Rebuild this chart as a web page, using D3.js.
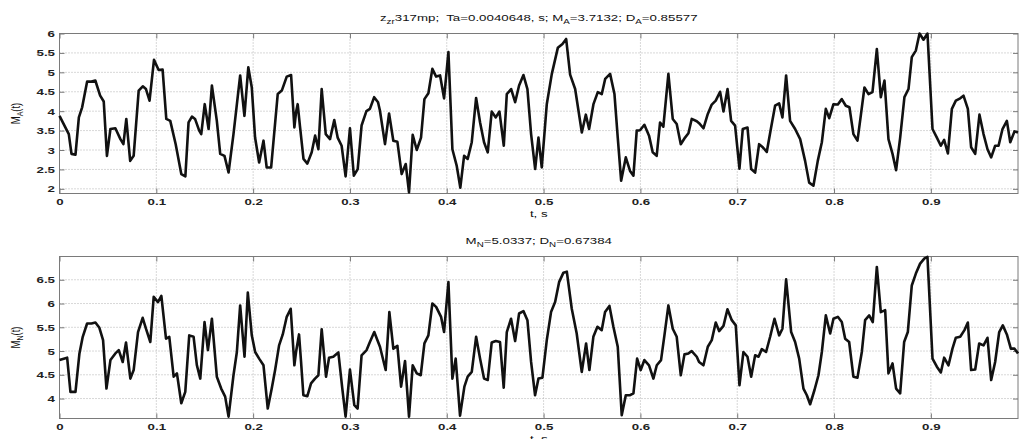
<!DOCTYPE html>
<html>
<head>
<meta charset="utf-8">
<script src="https://cdn.jsdelivr.net/npm/d3@7"></script>
<style>
body { margin: 0; background: #fff; }
svg { display: block; font-family: "Liberation Sans", Arial, sans-serif; }
text { white-space: pre; }
</style>
</head>
<body>
<div id="chart"></div>
<script>
// upper panel, M_A(t)
const tA = [0.000,0.0096,0.0124,0.0165,0.020,0.0234,0.0285,0.032,0.037,0.042,0.0457,0.049,0.0526,0.0577,0.0629,0.066,0.069,0.073,0.0766,0.0818,
  0.086,0.0893,0.093,0.0976,0.1024,0.1065,0.1103,0.1144,0.120,0.1258,0.130,0.1333,0.1368,0.140,0.1443,0.1464,0.150,0.154,0.1574,0.1625,
  0.166,0.1704,0.1746,0.1797,0.1866,0.191,0.195,0.1986,0.202,0.2062,0.2107,0.214,0.2186,0.2254,0.2296,0.2347,0.2392,0.2426,0.2443,0.246,
  0.2485,0.252,0.256,0.2605,0.264,0.2674,0.2708,0.275,0.2794,0.2838,0.2873,0.2914,0.2955,0.300,0.304,0.308,0.312,0.317,0.3206,0.325,
  0.329,0.331,0.3362,0.3404,0.3448,0.349,0.3534,0.3576,0.361,0.3648,0.369,0.3734,0.3769,0.381,0.3851,0.389,0.3931,0.3972,0.4017,0.4058,
  0.4103,0.414,0.4179,0.4216,0.4258,0.4303,0.4344,0.4385,0.4423,0.4464,0.4506,0.4544,0.4589,0.462,0.4665,0.4706,0.4747,0.4792,0.4833,0.4871,
  0.4913,0.4947,0.4981,0.5033,0.5085,0.5147,0.5195,0.5233,0.5274,0.5326,0.5395,0.5436,0.547,0.5515,0.556,0.5601,0.5636,0.5687,0.5732,0.5766,
  0.5801,0.5849,0.5893,0.5928,0.5962,0.5996,0.6041,0.6089,0.6127,0.6168,0.6203,0.6237,0.6289,0.6334,0.6375,0.6417,0.6461,0.6496,0.653,0.6582,
  0.6606,0.6651,0.6696,0.6737,0.6778,0.6823,0.6858,0.690,0.6937,0.6978,0.7023,0.7057,0.7106,0.7144,0.7185,0.7226,0.7264,0.7305,0.735,0.7391,
  0.7433,0.7467,0.7505,0.7546,0.7598,0.765,0.7701,0.7743,0.7787,0.7832,0.7874,0.7915,0.795,0.7994,0.8039,0.808,0.8121,0.8159,0.820,0.8242,
  0.8276,0.8314,0.8356,0.8397,0.8442,0.8483,0.8521,0.8562,0.8604,0.8641,0.8683,0.8727,0.8769,0.8803,0.8845,0.8883,0.8924,0.8965,0.9017,0.9062,
  0.9103,0.9137,0.9176,0.9217,0.9258,0.9303,0.9337,0.9382,0.9416,0.9458,0.9502,0.9544,0.9585,0.9623,0.9664,0.9699,0.974,0.9785,0.982,0.9864,
  0.99]
const mA = [3.88,3.41,2.90,2.88,3.84,4.10,4.76,4.76,4.79,4.40,4.25,2.85,3.54,3.56,3.28,3.15,3.80,2.72,2.85,4.53,
  4.64,4.57,4.27,5.32,5.06,5.07,3.80,3.75,3.15,2.38,2.32,3.71,3.86,3.80,3.50,3.41,4.18,3.54,4.66,3.75,
  2.90,2.85,2.42,3.41,4.92,3.88,5.13,4.61,3.32,2.68,3.24,2.55,2.55,4.44,4.53,4.89,4.93,3.58,3.97,4.18,
  3.58,2.77,2.65,2.94,3.37,3.02,4.57,3.41,3.28,3.77,3.32,3.11,2.32,3.56,2.34,2.51,3.63,4.00,4.06,4.36,
  4.23,4.01,3.15,3.94,3.24,3.21,2.38,2.64,1.91,3.39,3.00,3.32,4.31,4.46,5.09,4.89,4.92,4.33,5.52,3.02,
  2.59,2.03,2.85,2.77,3.20,4.34,3.71,3.20,2.94,3.99,3.84,3.99,3.11,4.44,4.57,4.23,4.66,4.93,4.57,3.41,
  2.51,3.32,2.55,4.18,4.96,5.63,5.73,5.86,4.94,4.57,3.45,3.91,3.54,4.18,4.49,4.44,4.83,4.96,4.44,3.32,
  2.21,2.81,2.46,2.34,3.50,3.51,3.65,3.37,2.94,2.85,3.71,3.60,4.96,3.80,3.67,3.15,3.32,3.43,3.80,3.74,
  3.69,3.56,3.93,4.17,4.27,4.50,3.99,4.57,3.75,3.63,2.52,3.54,3.58,2.51,2.42,3.15,3.07,2.95,3.58,4.14,
  4.20,3.84,4.92,3.75,3.54,3.28,2.72,2.16,2.08,2.72,3.20,4.06,3.82,4.18,4.17,4.31,4.14,4.10,3.41,3.24,
  3.88,4.61,4.44,4.49,5.60,4.36,4.79,3.28,2.90,2.48,3.32,4.36,4.57,5.39,5.56,6.00,5.84,6.00,3.54,3.32,
  3.11,3.26,2.91,4.06,4.27,4.33,4.40,4.06,3.07,2.90,3.91,3.41,3.02,2.81,3.11,3.11,3.54,3.75,3.20,3.48,
  3.45]

// lower panel, M_N(t)
const tN = [0.000,0.0079,0.0113,0.0165,0.0206,0.024,0.0285,0.033,0.0371,0.0412,0.045,0.0485,0.0526,0.0577,0.0612,0.0653,0.0687,0.0732,0.0766,0.0811,
  0.0859,0.0893,0.0938,0.0973,0.1017,0.1052,0.110,0.1134,0.1179,0.1213,0.1258,0.1299,0.134,0.1385,0.1419,0.1454,0.1498,0.1533,0.1574,0.1625,
  0.167,0.1711,0.1746,0.1797,0.1832,0.1866,0.1911,0.1945,0.1986,0.2021,0.2062,0.2107,0.2151,0.2192,0.2227,0.2268,0.2306,0.2347,0.2388,0.2426,
  0.2443,0.2474,0.2495,0.2519,0.256,0.2598,0.2639,0.2674,0.2708,0.2753,0.2784,0.2828,0.288,0.2921,0.2955,0.300,0.3045,0.3079,0.312,0.3172,
  0.3206,0.3251,0.331,0.3369,0.3407,0.3448,0.349,0.3528,0.3569,0.361,0.3648,0.369,0.3731,0.3769,0.381,0.3851,0.389,0.3941,0.3972,0.4017,
  0.4058,0.4092,0.4137,0.4182,0.4216,0.4258,0.4303,0.4344,0.4385,0.4423,0.4464,0.4506,0.455,0.4588,0.462,0.4664,0.4706,0.4747,0.4792,0.4833,
  0.4871,0.4912,0.4947,0.4988,0.5033,0.5077,0.5119,0.516,0.5205,0.524,0.5291,0.5342,0.5394,0.5439,0.5473,0.5514,0.5556,0.560,0.5635,0.568,
  0.5721,0.5766,0.5807,0.5849,0.5893,0.5928,0.5966,0.6003,0.6041,0.6089,0.6134,0.6169,0.6213,0.6248,0.6289,0.6334,0.6375,0.6417,0.6455,0.6496,
  0.653,0.6582,0.6606,0.6651,0.6696,0.6737,0.6778,0.6813,0.6858,0.6899,0.6944,0.6985,0.7023,0.7064,0.7106,0.7144,0.7185,0.722,0.7254,0.7298,
  0.734,0.7385,0.7433,0.7467,0.7505,0.7557,0.7598,0.764,0.7684,0.7719,0.7753,0.7798,0.7839,0.7874,0.7915,0.796,0.7994,0.8039,0.808,0.8115,
  0.8156,0.820,0.8242,0.8287,0.8321,0.8363,0.840,0.8442,0.8483,0.8528,0.8562,0.8604,0.8641,0.8683,0.8724,0.8762,0.8803,0.8845,0.8889,0.8934,
  0.8965,0.9017,0.9062,0.9103,0.9137,0.9182,0.9223,0.9258,0.9303,0.9347,0.9382,0.9416,0.9458,0.9499,0.9544,0.9585,0.9623,0.9664,0.9706,0.9743,
  0.9785,0.9826,0.9864,0.99]
const mN = [4.81,4.86,4.14,4.14,4.95,5.30,5.58,5.58,5.60,5.49,5.23,4.21,4.81,4.95,5.02,4.77,5.18,4.42,4.60,5.40,
  5.70,5.47,5.19,6.14,6.03,6.16,5.26,5.30,4.46,4.53,3.90,4.14,5.33,5.30,4.70,4.42,5.61,5.02,5.68,4.46,
  4.21,4.04,3.62,4.49,4.98,5.96,4.88,6.23,5.33,4.98,4.84,4.70,3.79,4.21,4.60,5.12,5.35,5.72,5.89,4.70,
  4.98,5.35,4.77,4.07,4.05,4.32,4.42,4.49,5.46,4.46,4.86,4.88,4.97,4.21,3.62,4.61,3.86,3.79,4.91,5.02,
  5.19,5.40,5.09,4.60,5.82,5.05,5.11,4.25,4.79,3.62,4.70,4.53,4.49,5.16,5.33,6.00,5.93,5.72,5.40,6.45,
  4.42,4.84,3.64,4.25,4.46,4.56,5.30,4.84,4.42,4.39,5.18,5.21,5.19,4.23,5.40,5.68,5.21,5.79,5.84,5.65,
  4.77,4.07,4.42,4.44,5.23,5.82,6.03,6.45,6.65,6.67,5.89,5.37,4.56,5.16,4.60,5.30,5.51,5.44,5.82,5.95,
  5.51,5.09,3.65,4.07,4.07,4.11,4.84,4.60,4.81,4.70,4.42,4.70,4.81,5.33,5.96,5.47,5.30,4.49,4.93,4.95,
  5.00,4.88,4.77,4.70,5.09,5.23,5.60,5.42,5.53,5.88,5.65,5.54,4.28,4.98,4.88,4.46,4.91,4.88,5.04,4.98,
  5.30,5.68,5.33,5.47,6.51,5.40,5.19,4.84,4.21,4.07,3.88,4.18,4.49,4.98,5.75,5.37,5.68,5.72,5.61,5.26,
  5.19,4.46,4.44,4.98,5.65,5.75,5.61,6.77,5.82,5.86,4.53,4.74,4.21,4.11,5.19,5.40,6.38,6.63,6.84,6.95,
  6.98,4.84,4.67,4.55,4.86,4.70,5.05,5.28,5.30,5.44,5.60,4.60,4.61,5.16,5.12,5.28,4.39,4.77,5.40,5.54,
  5.35,5.05,5.05,4.95]

const xDomain = [0, 0.99]
const xTicks = [0, 0.1, 0.2, 0.3, 0.4, 0.5, 0.6, 0.7, 0.8, 0.9]
const yDomainA = [1.88, 6.0]
const yTicksA = [2, 2.5, 3, 3.5, 4, 4.5, 5, 5.5, 6]
const yDomainN = [3.58, 6.99]
const yTicksN = [4, 4.5, 5, 5.5, 6, 6.5]

// text pieces: [string, is subscript]
const titleA = [["z", 0], ["zr", 1], ["317mp;  Ta=0.0040648, s; M", 0], ["A", 1], ["=3.7132; D", 0], ["A", 1], ["=0.85577", 0]]
const titleN = [["M", 0], ["N", 1], ["=5.0337; D", 0], ["N", 1], ["=0.67384", 0]]
const ylabelA = [["M", 0], ["A", 1], ["(t)", 0]]
const ylabelN = [["M", 0], ["N", 1], ["(t)", 0]]
const xlabel = [["t, s", 0]]

const W = 1019, H = 439
const left = 59.5, right = 1018
const SX = 1.4   // the source picture is stretched sideways, so is its lettering
const FS = 9.5

const svg = d3.select("#chart").append("svg")
    .attr("width", W)
    .attr("height", H)

function richText(g, parts, tf, anchor) {
    const t = g.append("text")
        .attr("transform", tf)
        .attr("text-anchor", anchor || "middle")
        .attr("font-size", FS)
        .attr("fill", "#111")
    let shift = 0
    parts.forEach(([s, sub]) => {
        const want = sub ? 2.5 : 0
        t.append("tspan")
            .attr("dy", want - shift)
            .attr("font-size", sub ? 7 : FS)
            .text(s)
        shift = want
    })
    return t
}

function drawPanel(p) {
    const x = d3.scaleLinear().domain(xDomain).range([left, right])
    const y = d3.scaleLinear().domain(p.yDomain).range([p.bottom, p.top])
    const g = svg.append("g")

    // dotted grid
    g.append("g").selectAll("line").data(xTicks).join("line")
        .attr("x1", d => x(d)).attr("x2", d => x(d))
        .attr("y1", p.top).attr("y2", p.bottom)
        .attr("stroke", "#b0b0b0").attr("stroke-dasharray", "1,2")
    g.append("g").selectAll("line").data(p.yTicks).join("line")
        .attr("x1", left).attr("x2", right)
        .attr("y1", d => y(d)).attr("y2", d => y(d))
        .attr("stroke", "#b0b0b0").attr("stroke-dasharray", "1,2")

    // axes, ticks pointing inward
    const styleAxis = a => {
        a.select(".domain").remove()
        a.attr("font-family", null).attr("font-size", FS).attr("color", "#7a7a7a")
        a.selectAll("text").attr("fill", "#222").attr("font-weight", "bold")
    }
    g.append("g").attr("transform", `translate(0,${p.bottom})`)
        .call(d3.axisBottom(x).tickValues(xTicks).tickSizeInner(-5).tickSizeOuter(0).tickPadding(4.5).tickFormat(d => String(d)))
        .call(styleAxis)
        .selectAll("text").attr("transform", `scale(${SX},1)`)
    g.append("g").attr("transform", `translate(0,${p.top})`)
        .call(d3.axisTop(x).tickValues(xTicks).tickSizeInner(-5).tickSizeOuter(0).tickFormat(""))
        .call(styleAxis)
    g.append("g").attr("transform", `translate(${left},0)`)
        .call(d3.axisLeft(y).tickValues(p.yTicks).tickSizeInner(-5).tickSizeOuter(0).tickPadding(4.5 / SX).tickFormat(d => String(d)))
        .call(styleAxis)
        .selectAll("text").attr("transform", `scale(${SX},1)`)
    g.append("g").attr("transform", `translate(${right},0)`)
        .call(d3.axisRight(y).tickValues(p.yTicks).tickSizeInner(-5).tickSizeOuter(0).tickFormat(""))
        .call(styleAxis)

    // box
    g.append("rect")
        .attr("x", left).attr("y", p.top)
        .attr("width", right - left).attr("height", p.bottom - p.top)
        .attr("fill", "none").attr("stroke", "#7a7a7a")

    // the series
    const line = d3.line().x(d => x(d[0])).y(d => y(d[1]))
    g.append("path")
        .datum(d3.zip(p.t, p.v))
        .attr("d", line)
        .attr("fill", "none")
        .attr("stroke", "#111")
        .attr("stroke-width", 2.6)
        .attr("stroke-linejoin", "round")

    const cx = (left + right) / 2
    richText(g, p.title, `translate(${cx},${p.top - 12.5}) scale(${SX},1)`)
    richText(g, xlabel, `translate(${cx},${p.bottom + 23.5}) scale(${SX},1)`)
    richText(g, p.ylabel, `translate(19.5,${(p.top + p.bottom) / 2}) scale(${SX},1) rotate(-90)`)
}

drawPanel({ top: 33.5, bottom: 193.5, yDomain: yDomainA, yTicks: yTicksA, t: tA, v: mA, title: titleA, ylabel: ylabelA })
drawPanel({ top: 256.5, bottom: 418.5, yDomain: yDomainN, yTicks: yTicksN, t: tN, v: mN, title: titleN, ylabel: ylabelN })
</script>
</body>
</html>
